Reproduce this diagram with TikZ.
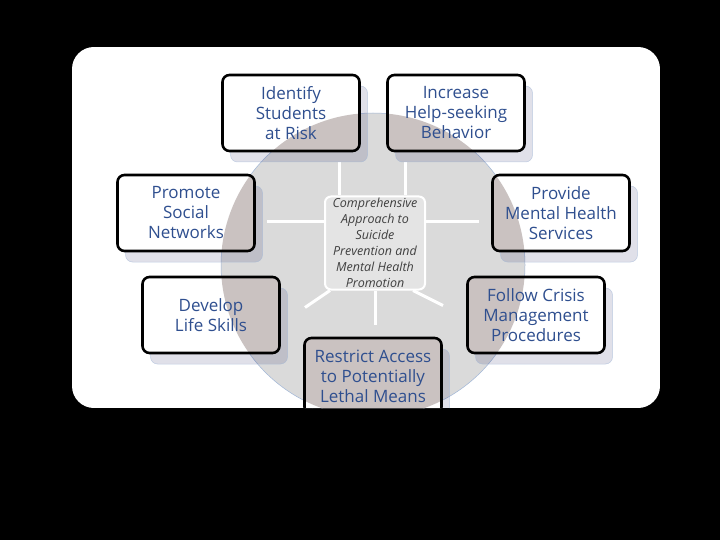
\documentclass[tikz,border=0pt]{standalone}
\usepackage{fontspec}
\setmainfont{Open Sans}
\usepackage{xcolor}
\usepackage{tikz}
\usetikzlibrary{shadows}

\definecolor{boxtext}{RGB}{47,79,143}
\definecolor{ringgray}{RGB}{218,218,218}
\definecolor{tint}{RGB}{202,194,193}
\definecolor{hubgray}{RGB}{228,228,228}
\definecolor{ringblue}{RGB}{160,182,215}

\begin{document}
\begin{tikzpicture}[
  x=1pt, y=-1pt,
  box/.style={draw=black, line width=2.6pt, rounded corners=7pt, fill=white,
    align=center, text=boxtext, font=\fontsize{17}{20}\selectfont,
    minimum width=137pt, minimum height=76pt, inner sep=1pt,
    drop shadow={shadow xshift=8pt, shadow yshift=-11pt, fill=black!70!blue,
      fill opacity=0.12, draw=ringblue, draw opacity=0.6, line width=0.5pt},
    path picture={\fill[tint] (ctr) circle[radius=152pt];}},
  hub/.style={draw=white, line width=2pt, rounded corners=6pt, fill=hubgray,
    align=center, text=black!75, font=\fontsize{12.5}{16}\selectfont\itshape,
    minimum width=100pt, minimum height=93pt, inner sep=0pt},
  spoke/.style={draw=white, line width=3pt}
]
\fill[black] (0,0) rectangle (720,540);
\begin{scope}
\clip[rounded corners=22pt] (72,47) rectangle (660,408);
\fill[white] (72,47) rectangle (660,408);

\coordinate (ctr) at (373,265);
\fill[ringgray, draw=ringblue, line width=0.5pt] (ctr) circle[radius=152pt];

\node[hub] (hub) at (375,243) {Comprehensive\\Approach to\\Suicide\\Prevention and\\Mental Health\\Promotion};

% spokes out of the hub
\draw[spoke] ([xshift=-36pt]hub.north) -- ++(0,-33);
\draw[spoke] ([xshift=30pt]hub.north) -- ++(0,-33);
\draw[spoke] ([yshift=21pt]hub.west) -- ++(-57,0);
\draw[spoke] ([yshift=21pt]hub.east) -- ++(53,0);
\draw[spoke] ([xshift=-45pt]hub.south) -- ++(-25,17);
\draw[spoke] (hub.south) -- ++(0,34);
\draw[spoke] ([xshift=38pt]hub.south) -- ++(30,15);

\node[box] (identify) at (291,113) {Identify\\Students\\at Risk};
\node[box] (helpseek) at (456,113) {Increase\\Help-seeking\\Behavior};
\node[box] (social) at (186,213) {Promote\\Social\\Networks};
\node[box] (services) at (561,213) {Provide\\Mental Health\\Services};
\node[box] (skills) at (211,315) {Develop\\Life Skills};
\node[box] (crisis) at (536,315) {Follow Crisis\\Management\\Procedures};
\node[box] (means) at (373,376) {Restrict Access\\to Potentially\\Lethal Means};
\end{scope}
\end{tikzpicture}
\end{document}
